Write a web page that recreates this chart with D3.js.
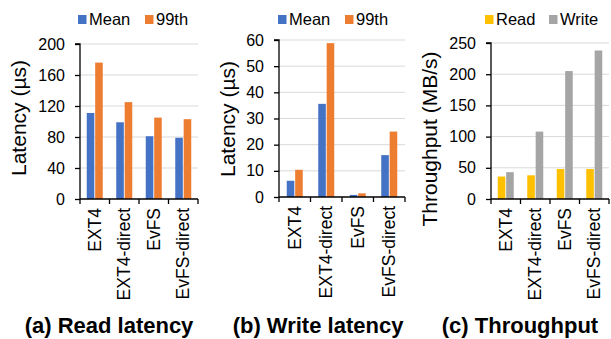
<!DOCTYPE html>
<html>
<head>
<meta charset="utf-8">
<script src="https://cdn.jsdelivr.net/npm/d3@7"></script>
<style>
  body { margin: 0; background: #fff; }
  svg { display: block; font-family: "Liberation Sans", Arial, sans-serif; }
</style>
</head>
<body>
<svg id="chart" width="611" height="339"></svg>
<script>
// categories shared by all three panels
var categories = ["EXT4", "EXT4-direct", "EvFS", "EvFS-direct"];

// (a) read latency, us
var readMean = [111, 99, 81, 79];
var read99 = [176, 125, 105, 103];
var readTicks = [0, 40, 80, 120, 160, 200];

// (b) write latency, us
var writeMean = [6.2, 35.6, 0.8, 16];
var write99 = [10.4, 58.8, 1.4, 25];
var writeTicks = [0, 10, 20, 30, 40, 50, 60];

// (c) throughput, MB/s
var tputRead = [36, 38, 48, 48];
var tputWrite = [43, 108, 205, 238];
var tputTicks = [0, 50, 100, 150, 200, 250];

var svg = d3.select("#chart");

function drawPanel(p) {
  var g = svg.append("g");

  var x = d3.scaleBand().domain(categories).range([p.left, p.right]).padding(0);
  var bw = x.bandwidth();
  var x1 = d3.scaleBand().domain([0, 1])
    .range([bw / 2 - 8, bw / 2 + 8]).paddingInner(0.1);
  var y = d3.scaleLinear().domain([0, p.max]).range([p.bottom, p.top]);

  // gridlines
  g.selectAll(".grid").data(p.ticks.slice(1)).enter().append("line")
    .attr("x1", p.left).attr("x2", p.right)
    .attr("y1", function(d) { return y(d); })
    .attr("y2", function(d) { return y(d); })
    .attr("stroke", "#d9d9d9").attr("stroke-width", 1);

  // bars
  var rows = categories.map(function(c, i) {
    return {cat: c, vals: [p.s1[i], p.s2[i]]};
  });
  var grp = g.selectAll(".cat").data(rows).enter().append("g")
    .attr("transform", function(d) { return "translate(" + x(d.cat) + ",0)"; });
  grp.selectAll("rect").data(function(d) { return d.vals; }).enter().append("rect")
    .attr("x", function(d, j) { return x1(j); })
    .attr("width", x1.bandwidth())
    .attr("y", function(d) { return y(d); })
    .attr("height", function(d) { return p.bottom - y(d); })
    .attr("fill", function(d, j) { return p.colors[j]; });

  // y axis
  var yAxis = d3.axisLeft(y).tickValues(p.ticks).tickSize(5).tickPadding(10);
  var ya = g.append("g").attr("transform", "translate(" + p.left + ",0)").call(yAxis);
  ya.select(".domain").attr("stroke", "#000").attr("stroke-width", 1.3)
    .attr("d", "M-5," + y(p.max) + "H0V" + p.bottom);
  ya.selectAll(".tick line").attr("stroke", "#000").attr("stroke-width", 1.3);
  ya.selectAll(".tick text").attr("font-size", 16).attr("fill", "#000")
    .attr("font-family", "Liberation Sans, Arial, sans-serif");

  // x axis with ticks between categories
  var xa = g.append("g");
  xa.append("line").attr("x1", p.left).attr("x2", p.right)
    .attr("y1", p.bottom).attr("y2", p.bottom)
    .attr("stroke", "#000").attr("stroke-width", 1.3);
  var bounds = categories.map(function(c) { return x(c); }).concat([p.right]);
  xa.selectAll(".xt").data(bounds).enter().append("line")
    .attr("x1", function(d) { return d; }).attr("x2", function(d) { return d; })
    .attr("y1", p.bottom).attr("y2", p.bottom + 5)
    .attr("stroke", "#000").attr("stroke-width", 1.3);
  xa.selectAll(".xl").data(categories).enter().append("text")
    .attr("transform", function(d) {
      return "translate(" + (x(d) + bw / 2 + 6) + "," + (p.bottom + 9) + ") rotate(-90)";
    })
    .attr("text-anchor", "end")
    .attr("font-size", 17.5)
    .text(function(d) { return d; });

  // y title
  g.append("text")
    .attr("transform", "translate(" + p.titleX + "," + p.titleY + ") rotate(-90)")
    .attr("text-anchor", "middle")
    .attr("font-size", 21)
    .text(p.title);

  // legend
  var lg = g.selectAll(".leg").data(p.legend).enter().append("g")
    .attr("transform", function(d, j) { return "translate(" + p.legX[j] + ",14)"; });
  lg.append("rect").attr("width", 8.5).attr("height", 9).attr("y", 1)
    .attr("fill", function(d, j) { return p.colors[j]; });
  lg.append("text").attr("x", 11).attr("y", 10.5).attr("font-size", 16.5)
    .text(function(d) { return d; });

  // caption
  g.append("text")
    .attr("x", p.capX).attr("y", 333)
    .attr("text-anchor", "middle")
    .attr("font-size", 22).attr("font-weight", "bold")
    .text(p.caption);
}

drawPanel({
  left: 80, right: 198, top: 44, bottom: 199, max: 200, ticks: readTicks,
  s1: readMean, s2: read99, colors: ["#4472c4", "#ed7d31"],
  legend: ["Mean", "99th"], legX: [78, 145],
  title: "Latency (\u00b5s)", titleX: 26, titleY: 118,
  caption: "(a) Read latency", capX: 109
});

drawPanel({
  left: 279, right: 405, top: 40, bottom: 197, max: 60, ticks: writeTicks,
  s1: writeMean, s2: write99, colors: ["#4472c4", "#ed7d31"],
  legend: ["Mean", "99th"], legX: [278, 345],
  title: "Latency (\u00b5s)", titleX: 235, titleY: 119,
  caption: "(b) Write latency", capX: 318
});

drawPanel({
  left: 491, right: 609, top: 43, bottom: 199, max: 250, ticks: tputTicks,
  s1: tputRead, s2: tputWrite, colors: ["#ffc000", "#a5a5a5"],
  legend: ["Read", "Write"], legX: [485, 549],
  title: "Throughput (MB/s)", titleX: 437, titleY: 139,
  caption: "(c) Throughput", capX: 520
});
</script>
</body>
</html>
